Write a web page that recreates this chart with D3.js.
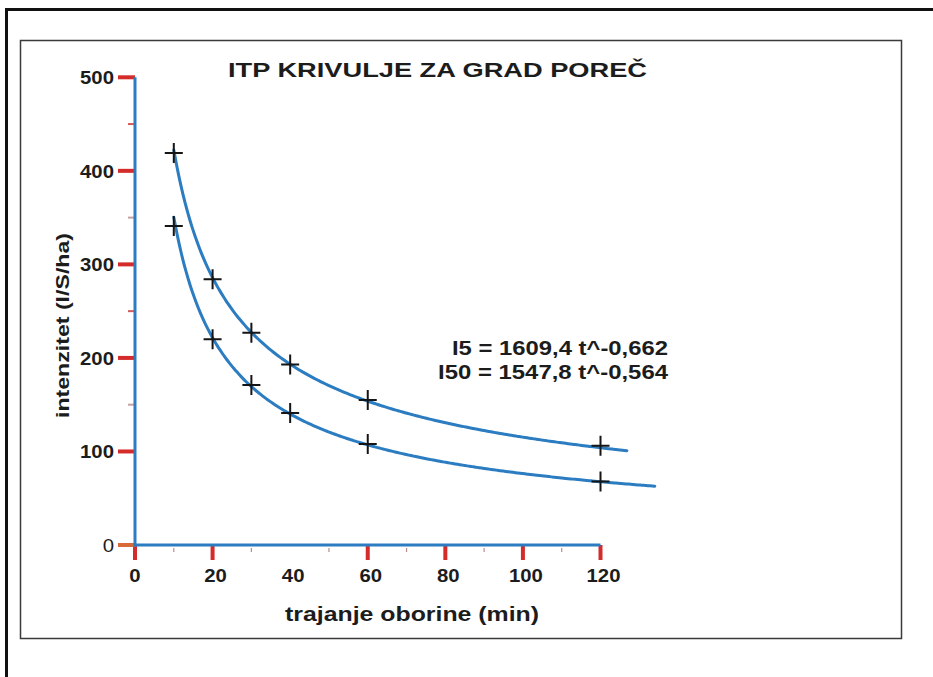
<!DOCTYPE html>
<html>
<head>
<meta charset="utf-8">
<script src="https://cdn.jsdelivr.net/npm/d3@7"></script>
<style>
  html, body { margin: 0; padding: 0; background: #fff; }
  svg { display: block; }
  text { font-family: "Liberation Sans", Arial, sans-serif; fill: #1c1c1c; }
</style>
</head>
<body>
<svg id="chart" width="933" height="677"></svg>
<script>
// Measured rainfall intensities (l/s/ha) for each duration (min)
const durations = [10, 20, 30, 40, 60, 120];
const i50Observed = [419, 284, 227, 193, 155, 106];
const i5Observed = [341, 220, 171, 141, 108, 68];

// Fitted ITP curves  I = a * t^b  (coefficients as printed on the chart)
const curveNames = ["I5", "I50"];
const curveA = [1609.4, 1547.8];
const curveB = [-0.662, -0.564];
const curveFrom = [10, 10];
const curveTo = [134, 126.8];
const equationLabels = ["I5 = 1609,4 t^-0,662", "I50 = 1547,8 t^-0,564"];

// Axis ticks
const xMajorTicks = [0, 20, 60, 80, 100, 120];
const xTickLabels = [0, 20, 40, 60, 80, 100, 120];
const xMinorTicks = [10, 30, 50, 70, 90, 110];
const yMajorTicks = [0, 100, 200, 300, 400, 500];
const yMinorTicks = [150, 250, 350, 450];

const titleText = "ITP KRIVULJE ZA GRAD POREČ";
const xTitle = "trajanje oborine (min)";
const yTitle = "intenzitet (l/S/ha)";

const blue = "#2b7cc0";
const red = "#d42b2b";

const svg = d3.select("#chart");

// frames
svg.append("rect").attr("x", 6.5).attr("y", 9.5).attr("width", 960).attr("height", 700)
  .attr("fill", "none").attr("stroke", "#111").attr("stroke-width", 3);
svg.append("rect").attr("x", 20.5).attr("y", 40.5).attr("width", 881).attr("height", 598)
  .attr("fill", "none").attr("stroke", "#3a3a3a").attr("stroke-width", 1.5);

const x = d3.scaleLinear().domain([0, 120]).range([135, 600.5]);
const y = d3.scaleLinear().domain([0, 500]).range([545, 77.3]);

// minor ticks
svg.append("g").selectAll("line").data(xMinorTicks).join("line")
  .attr("x1", d => x(d)).attr("x2", d => x(d)).attr("y1", 548).attr("y2", 552)
  .attr("stroke", "#b98c8c").attr("stroke-width", 1.2);
svg.append("g").selectAll("line").data(yMinorTicks).join("line")
  .attr("y1", d => y(d)).attr("y2", d => y(d)).attr("x1", 128).attr("x2", 134)
  .attr("stroke", (d, i) => i % 2 ? "#d45a5a" : "#c7a0a0").attr("stroke-width", 2);

// major ticks
svg.append("g").selectAll("line").data(xMajorTicks).join("line")
  .attr("x1", d => x(d)).attr("x2", d => x(d)).attr("y1", 545).attr("y2", 560)
  .attr("stroke", red).attr("stroke-width", 4);
svg.append("g").selectAll("line").data(yMajorTicks).join("line")
  .attr("y1", d => y(d)).attr("y2", d => y(d)).attr("x1", 118).attr("x2", 135)
  .attr("stroke", d => d === 0 ? "#d86a3a" : red).attr("stroke-width", 4);

// axis lines
svg.append("line").attr("x1", x(0)).attr("x2", x(0)).attr("y1", y(0) + 1.5).attr("y2", y(500))
  .attr("stroke", blue).attr("stroke-width", 3);
svg.append("line").attr("x1", x(0) - 1.5).attr("x2", x(120)).attr("y1", y(0)).attr("y2", y(0))
  .attr("stroke", blue).attr("stroke-width", 3);

function stretch(sel, k) {
  sel.each(function () {
    const w = this.getComputedTextLength();
    d3.select(this).attr("textLength", w * k).attr("lengthAdjust", "spacingAndGlyphs");
  });
}

// tick labels
svg.append("g").selectAll("text").data(yMajorTicks).join("text")
  .attr("x", 114).attr("y", d => y(d) + 7)
  .attr("text-anchor", "end").attr("font-size", 19)
  .attr("font-weight", d => d === 0 ? "normal" : "bold")
  .text(d => d).call(stretch, 1.07);
svg.append("g").selectAll("text").data(xTickLabels).join("text")
  .attr("x", d => x(d) + (d === 0 ? 0 : 3)).attr("y", 582)
  .attr("text-anchor", "middle").attr("font-size", 19).attr("font-weight", "bold")
  .text(d => d).call(stretch, 1.07);

// title and axis titles
svg.append("text").attr("x", 437.5).attr("y", 77).attr("text-anchor", "middle")
  .attr("font-size", 21).attr("font-weight", "bold")
  .attr("textLength", 419).attr("lengthAdjust", "spacingAndGlyphs").text(titleText);
svg.append("text").attr("x", 412).attr("y", 621).attr("text-anchor", "middle")
  .attr("font-size", 21).attr("font-weight", "bold")
  .attr("textLength", 254).attr("lengthAdjust", "spacingAndGlyphs").text(xTitle);
svg.append("text").attr("transform", "translate(69,325.5) rotate(-90)")
  .attr("text-anchor", "middle").attr("font-size", 19).attr("font-weight", "bold")
  .attr("textLength", 185).attr("lengthAdjust", "spacingAndGlyphs").text(yTitle);

// equation labels
const eqLen = [216, 230];
svg.append("g").selectAll("text").data(equationLabels).join("text")
  .attr("x", 668).attr("y", (d, i) => 355 + i * 24)
  .attr("text-anchor", "end").attr("font-size", 20).attr("font-weight", "bold")
  .attr("textLength", (d, i) => eqLen[i]).attr("lengthAdjust", "spacingAndGlyphs")
  .text(d => d);

// fitted curves
const line = d3.line().x(d => x(d[0])).y(d => y(d[1])).curve(d3.curveBasis);
curveNames.forEach((name, i) => {
  const pts = [];
  for (let t = curveFrom[i]; t <= curveTo[i] + 1e-9; t += (curveTo[i] - curveFrom[i]) / 200) {
    pts.push([t, curveA[i] * Math.pow(t, curveB[i])]);
  }
  svg.append("path").attr("d", line(pts)).attr("fill", "none")
    .attr("stroke", blue).attr("stroke-width", 3).attr("stroke-linecap", "round");
});

// observed points as plus markers
function plus(sel, values) {
  const g = sel.append("g").attr("stroke", "#151515").attr("stroke-width", 2);
  g.selectAll("path").data(durations.map((t, i) => [t, values[i]])).join("path")
    .attr("d", d => {
      const cx = x(d[0]), cy = y(d[1]);
      return `M${cx - 9},${cy}H${cx + 9}M${cx},${cy - 10}V${cy + 10}`;
    });
}
plus(svg, i50Observed);
plus(svg, i5Observed);
</script>
</body>
</html>
